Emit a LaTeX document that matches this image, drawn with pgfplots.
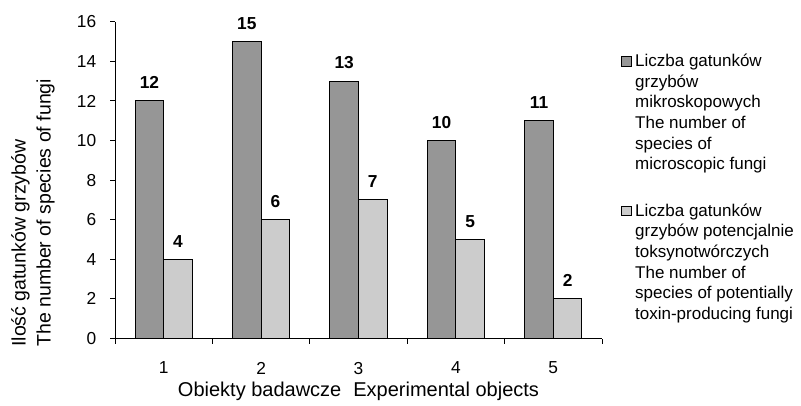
\documentclass[border=0pt]{standalone}
\usepackage{pgfplots}
\pgfplotsset{compat=1.18}
\usepackage{fontspec}
\setmainfont{Liberation Sans}
\definecolor{darkbar}{HTML}{969696}
\definecolor{lightbar}{HTML}{CCCCCC}
\newcommand{\fs}{\fontsize{10.4pt}{12.4pt}\selectfont}
\newcommand{\fl}{\fontsize{10.2pt}{12.4pt}\selectfont}
\begin{document}
\fs
\begin{tikzpicture}
\begin{axis}[
  name=ax,
  at={(0pt,0pt)}, anchor=south west,
  scale only axis, width=292.2pt, height=190pt,
  xmin=0.5, xmax=5.5, ymin=0, ymax=16,
  clip=false,
  ybar=0pt, bar width=0.293,
  axis x line*=bottom, axis y line*=left,
  axis line style={-, black, line width=0.6pt},
  xtick={1,2,3,4,5}, minor xtick={0.5,1.5,2.5,3.5,4.5,5.5},
  ytick={0,2,...,16},
  tick align=outside, major tick length=3pt, minor tick length=3pt,
  tick style={black, line width=0.6pt},
  major x tick style={draw=none},
  /pgf/number format/assume math mode=true,
  ticklabel style={font=\fs},
  xticklabel style={yshift=-7.4pt},
  yticklabel style={xshift=-4.6pt},
  nodes near coords,
  nodes near coords style={font=\fs\bfseries, anchor=south, yshift=3.6pt},
  every axis plot post/.append style={legend image code/.code={\draw[##1, draw=black, line width=0.6pt] (0pt,0.3pt) rectangle (5.7pt,6pt);}},
  legend cell align=left,
  legend style={draw=none, fill=none, at={(rel axis cs:1.039,0.899)}, anchor=north west, inner sep=0pt, row sep=80.6pt, column sep=0pt,
    nodes={anchor=base west, inner sep=0pt, font=\fl}},
]
\addplot[fill=darkbar, draw=black, line width=0.6pt] coordinates {(1,12) (2,15) (3,13) (4,10) (5,11)};
\addlegendentry{\hspace{2pt}\parbox[t]{120pt}{\fl Liczba gatunków\\grzybów\\mikroskopowych\\The number of\\species of\\microscopic fungi}}
\addplot[fill=lightbar, draw=black, line width=0.6pt] coordinates {(1,4) (2,6) (3,7) (4,5) (5,2)};
\addlegendentry{\hspace{2pt}\parbox[t]{120pt}{\fl Liczba gatunków\\grzybów potencjalnie\\toksynotwórczych\\The number of\\species of potentially\\toxin-producing fungi}}
\end{axis}
\node[rotate=90, anchor=south west, align=left, inner sep=0pt, font=\fontsize{11.7pt}{15pt}\selectfont]
  at ([xshift=-36pt, yshift=-5.1pt]ax.south west) {Ilość gatunków grzybów\\The number of species of fungi};
\node[anchor=center, inner sep=0pt, font=\fontsize{12pt}{14pt}\selectfont] at ([yshift=-31.5pt]ax.south) {Obiekty badawcze\hspace{7.2pt}Experimental objects};
\pgfresetboundingbox
\path[use as bounding box] (-69pt,-39.9pt) rectangle (411.6pt,203.1pt);
\end{tikzpicture}
\end{document}
